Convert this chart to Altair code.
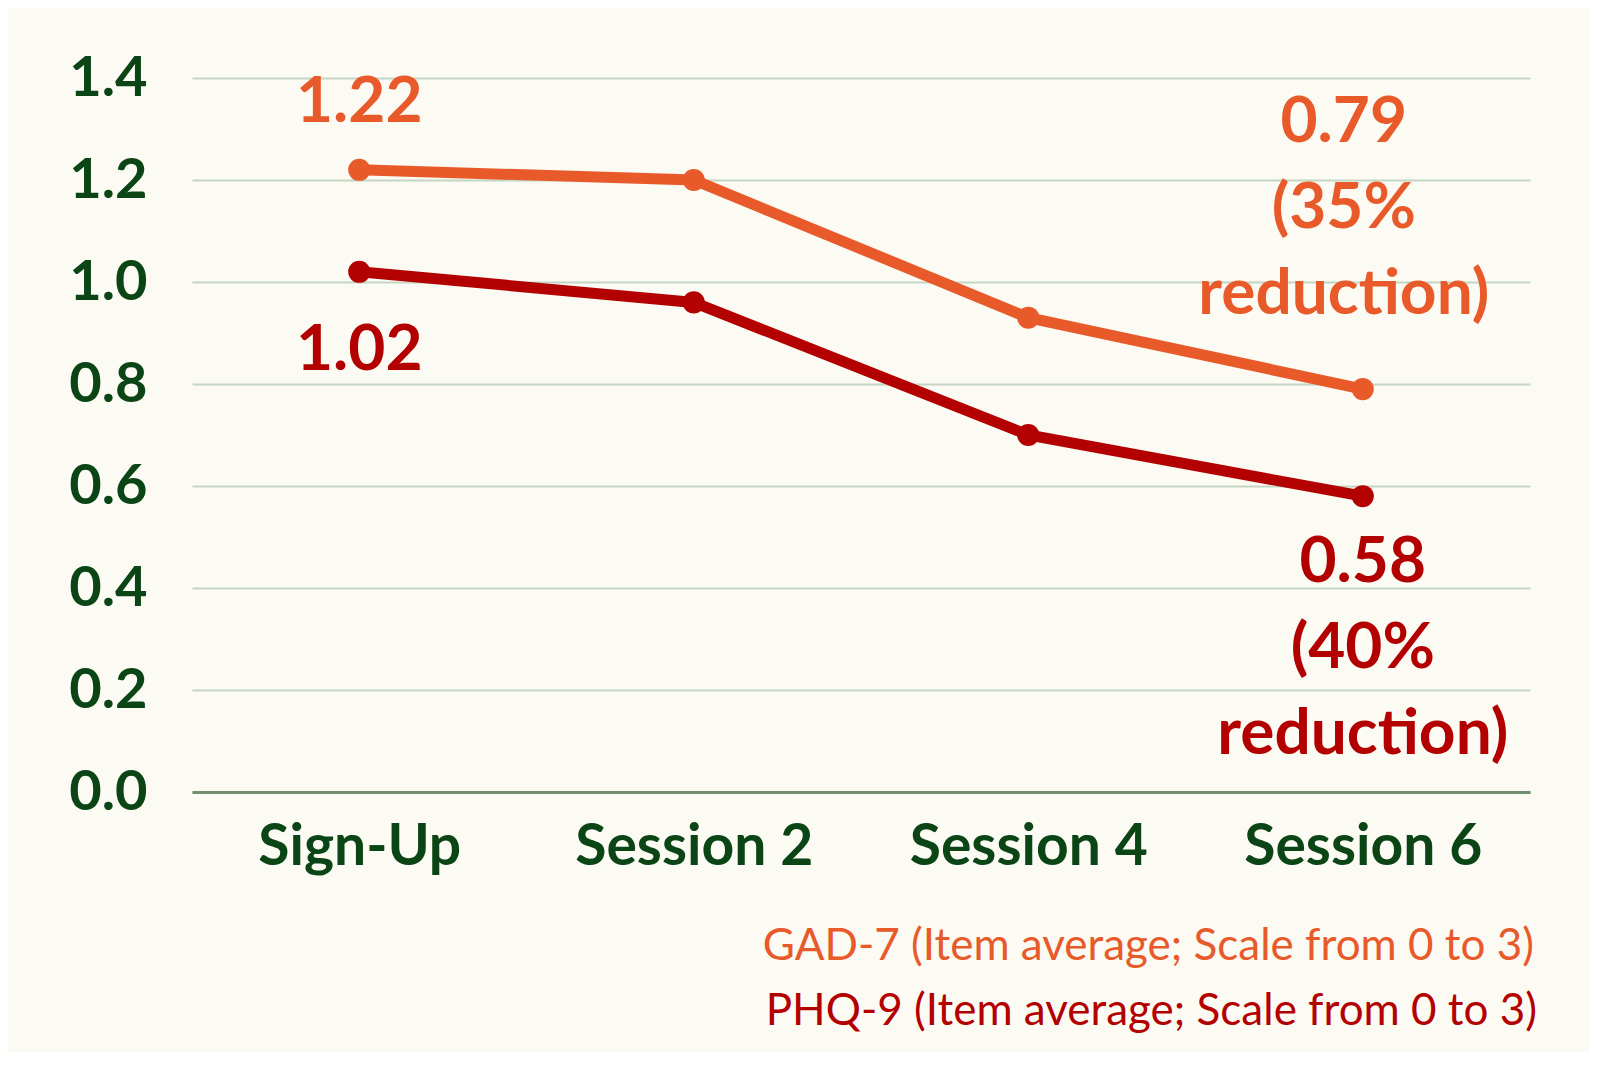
import altair as alt
import pandas as pd

categories = ["Sign-Up", "Session 2", "Session 4", "Session 6"]
gad7 = [1.22, 1.20, 0.93, 0.79]
phq9 = [1.02, 0.96, 0.70, 0.58]
series = ["GAD-7 (Item average; Scale from 0 to 3)", "PHQ-9 (Item average; Scale from 0 to 3)"]
reductions = ["35%", "40%"]
colors = ["#E85A2A", "#B30000"]
y_ticks = [0.0, 0.2, 0.4, 0.6, 0.8, 1.0, 1.2, 1.4]

rows = []
for s, vals in zip(series, [gad7, phq9]):
    for c, v in zip(categories, vals):
        rows.append({"session": c, "value": v, "series": s})
df = pd.DataFrame(rows)

lab_rows = []
for s, vals, red in zip(series, [gad7, phq9], reductions):
    lab_rows.append({"session": categories[0], "value": vals[0], "series": s,
                     "kind": "start", "text": f"{vals[0]:.2f}"})
    lab_rows.append({"session": categories[-1], "value": vals[-1], "series": s,
                     "kind": "end", "text": f"{vals[-1]:.2f}\n({red}\nreduction)"})
labels = pd.DataFrame(lab_rows)

legend_df = pd.DataFrame({"series": series})

FONT = "Lato"
color_scale = alt.Scale(domain=series, range=colors)

x_enc = alt.X("session:N", sort=categories, scale=alt.Scale(type="point", padding=0.5),
              axis=alt.Axis(title=None, labelAngle=0, labelFont=FONT, labelFontSize=57,
                            labelFontWeight="bold", labelColor="#0B4516", ticks=False,
                            labelPadding=27, labelLimit=400, domain=True,
                            domainColor="#6F8F6F", domainWidth=3, grid=False))
y_enc = alt.Y("value:Q", scale=alt.Scale(domain=[0, 1.4], nice=False, zero=True),
              axis=alt.Axis(title=None, values=y_ticks, format=".1f", labelFont=FONT,
                            labelFontSize=56, labelFontWeight="bold", labelColor="#0B4516",
                            ticks=False, domain=False, labelPadding=45, grid=True,
                            gridColor="#C5D5C3", gridWidth=2))
c_enc = alt.Color("series:N", scale=color_scale, legend=None)

base = alt.Chart(df)
lines = base.mark_line(strokeWidth=11).encode(x=x_enc, y=y_enc, color=c_enc)
points = base.mark_circle(size=490, opacity=1).encode(x=x_enc, y=y_enc, color=c_enc)


def lab(series_name, kind, dy, dx=0):
    return alt.Chart(labels).transform_filter(
        (alt.datum.series == series_name) & (alt.datum.kind == kind)
    ).mark_text(font=FONT, fontSize=64, fontWeight="bold", align="center",
                baseline="alphabetic", lineBreak="\n", lineHeight=86, dy=dy, dx=dx).encode(
        x=alt.X("session:N", sort=categories), y=alt.Y("value:Q"), text="text:N",
        color=c_enc)


l1 = lab(series[0], "start", -48)
l2 = lab(series[1], "start", 98)
l3 = lab(series[0], "end", -247, -19)
l4 = lab(series[1], "end", 86)


def legend_line(series_name, ypix, xpix):
    return alt.Chart(legend_df).transform_filter(
        alt.datum.series == series_name
    ).mark_text(font=FONT, fontSize=44, align="right", baseline="alphabetic").encode(
        x=alt.value(xpix), y=alt.value(ypix), text="series:N", color=c_enc)


g1 = legend_line(series[0], 882, 1342)
g2 = legend_line(series[1], 947, 1345)

chart = alt.layer(lines, points, l1, l2, l3, l4, g1, g2).properties(
    width=1338, height=714,
    autosize=alt.AutoSizeParams(type="none"),
    padding={"left": 184, "top": 70, "right": 60, "bottom": 260},
    background="#FBFAF3",
).configure_view(stroke=None)

chart.save("out.html", embed_options={"renderer": "svg", "actions": False})
